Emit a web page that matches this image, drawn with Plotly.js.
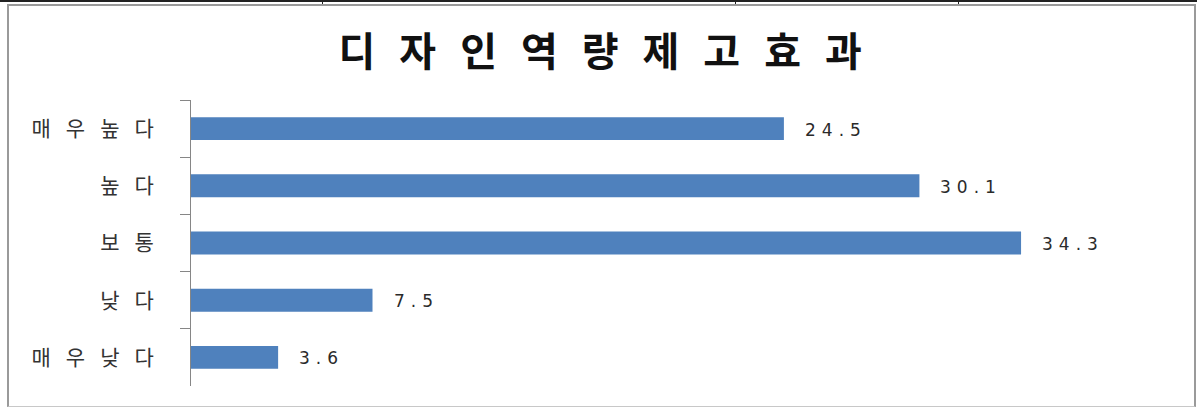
<!DOCTYPE html>
<html>
<head>
<meta charset="utf-8">
<script src="https://cdn.plot.ly/plotly-3.0.1.min.js"></script>
<style>
  html, body { margin: 0; padding: 0; background: #fff; width: 1198px; height: 407px; overflow: hidden; }
  #topline { position: absolute; left: 0; top: 0; width: 1197px; height: 2px; background: #222; }
  .cell { position: absolute; top: 0; width: 1px; height: 4px; background: #222; }
  #frame { position: absolute; left: 7px; top: 4px; width: 1189px; height: 403px; box-sizing: border-box;
           border: 2px solid #9a9a9a; border-bottom: 1px solid #c8c8c8; }
  #chart { position: absolute; left: 0; top: 0; width: 1198px; height: 407px; }
  .gtitle { letter-spacing: 24px; }
  .ytick text { letter-spacing: 15px; }
  .annotation-text { letter-spacing: 6px; }
</style>
</head>
<body>
<div id="topline"></div>
<div class="cell" style="left:322px"></div>
<div class="cell" style="left:735px"></div>
<div class="cell" style="left:958px"></div>
<div id="frame"></div>
<div id="chart"></div>
<script>
const titleText = '디자인역량제고효과';
const categories = ['매우높다', '높다', '보통', '낮다', '매우낮다'];
const values = [24.5, 30.1, 34.3, 7.5, 3.6];
const valueLabels = ['24.5', '30.1', '34.3', '7.5', '3.6'];

const trace = {
  type: 'bar',
  orientation: 'h',
  x: values,
  y: categories,
  marker: { color: '#4F81BD', line: { width: 0 } },
  hoverinfo: 'none'
};

const annotations = categories.map((c, i) => ({
  x: values[i],
  y: c,
  xref: 'x',
  yref: 'y',
  text: valueLabels[i],
  showarrow: false,
  xanchor: 'left',
  yanchor: 'middle',
  xshift: 19,
  yshift: -1,
  font: { family: 'DejaVu Sans', size: 17, color: '#2a2a2a' }
}));

const layout = {
  width: 1198,
  height: 407,
  paper_bgcolor: 'rgba(0,0,0,0)',
  plot_bgcolor: 'rgba(0,0,0,0)',
  margin: { l: 191, r: 39, t: 100, b: 21, pad: 0 },
  showlegend: false,
  bargap: 0.6,
  title: {
    text: titleText,
    font: { family: 'Noto Sans CJK KR', size: 40, color: '#111111', weight: 700 },
    xref: 'container',
    yref: 'container',
    x: 0.511,
    xanchor: 'center',
    y: 1 - 52 / 407,
    yanchor: 'middle'
  },
  xaxis: {
    visible: false,
    range: [0, 40],
    fixedrange: true
  },
  yaxis: {
    type: 'category',
    autorange: 'reversed',
    showline: true,
    linecolor: '#868686',
    linewidth: 1,
    ticks: 'outside',
    tickson: 'boundaries',
    ticklen: 10,
    tickcolor: '#868686',
    tickwidth: 1,
    showgrid: false,
    zeroline: false,
    ticklabelstandoff: 17,
    tickfont: { family: 'Noto Sans CJK KR', size: 21, color: '#333333' },
    fixedrange: true
  },
  annotations: annotations
};

Plotly.newPlot('chart', [trace], layout, { displayModeBar: false, staticPlot: true });
</script>
</body>
</html>
